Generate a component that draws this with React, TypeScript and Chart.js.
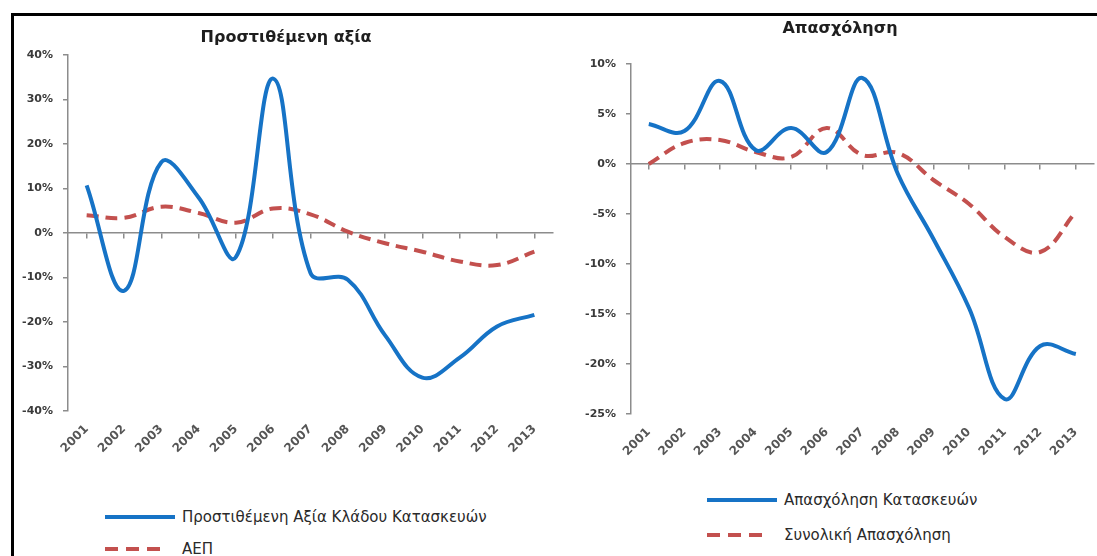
import React, { useEffect, useRef } from "react";
import { Chart, registerables } from "chart.js";

Chart.register(...registerables);

// ---- data ----
const years = ["2001", "2002", "2003", "2004", "2005", "2006", "2007", "2008", "2009", "2010", "2011", "2012", "2013"];

// Left panel: Προστιθέμενη αξία (% change)
const valueAddedConstruction = [10.7, -13, 15.9, 8.0, -5.4, 34.7, -9, -10.5, -23, -32.5, -28, -21, -18.4];
const gdp = [4.0, 3.4, 5.9, 4.5, 2.3, 5.5, 4.2, 0.3, -2.3, -4.2, -6.4, -7.2, -4.2];

// Right panel: Απασχόληση (% change)
const constructionEmployment = [4.0, 3.3, 8.3, 1.4, 3.6, 1.2, 8.6, -1.0, -7.5, -14.4, -23.5, -18.2, -19.0];
const totalEmployment = [0.0, 2.1, 2.4, 1.2, 0.7, 3.6, 0.9, 1.1, -1.6, -4.0, -7.3, -8.8, -4.8];

const leftTitle = "Προστιθέμενη αξία";
const rightTitle = "Απασχόληση";
const leftSeriesNames = ["Προστιθέμενη Αξία Κλάδου Κατασκευών", "ΑΕΠ"];
const rightSeriesNames = ["Απασχόληση Κατασκευών", "Συνολική Απασχόληση"];

const BLUE = "#1673c6";
const RED = "#c3504e";
const AXIS = "#8c8c8c";
const FONT = "'DejaVu Sans', 'Open Sans', sans-serif";

type PanelCfg = {
  a: number[];
  b: number[];
  names: string[];
  min: number;
  max: number;
  step: number;
  padding: { left: number; top: number; right: number; bottom: number };
  yWidth: number;
  xHeight: number;
};

function buildChart(canvas: HTMLCanvasElement, cfg: PanelCfg) {
  const yFont = { family: FONT, size: 11, weight: "bold" as const };
  const xFont = { family: FONT, size: 12, weight: "bold" as const };
  return new Chart(canvas, {
    type: "line",
    data: {
      labels: years,
      datasets: [
        {
          label: cfg.names[0],
          data: cfg.a,
          borderColor: BLUE,
          backgroundColor: BLUE,
          borderWidth: 4,
          pointRadius: 0,
          tension: 0.4,
          fill: false,
        },
        {
          label: cfg.names[1],
          data: cfg.b,
          borderColor: RED,
          backgroundColor: RED,
          borderWidth: 4,
          borderDash: [12, 7],
          pointRadius: 0,
          tension: 0.4,
          fill: false,
        },
      ],
    },
    options: {
      responsive: false,
      animation: false,
      devicePixelRatio: 1,
      layout: { padding: cfg.padding },
      plugins: {
        legend: { display: false },
        title: { display: false },
        tooltip: { enabled: false },
      },
      scales: {
        x: {
          type: "category",
          position: "bottom",
          offset: true,
          border: { display: false },
          grid: { display: false, drawTicks: false },
          ticks: {
            minRotation: 45,
            maxRotation: 45,
            autoSkip: false,
            padding: 11,
            color: "#555555",
            font: xFont,
          },
          afterFit: (s: any) => {
            s.height = cfg.xHeight;
          },
        },
        x2: {
          type: "category",
          position: { y: 0 } as any,
          offset: true,
          border: { display: true, color: AXIS, width: 1.5 },
          grid: { display: true, drawOnChartArea: false, drawTicks: true, tickLength: 5, color: AXIS, lineWidth: 1.5 },
          ticks: { display: false },
        },
        y: {
          type: "linear",
          min: cfg.min,
          max: cfg.max,
          border: { display: true, color: AXIS, width: 1.5 },
          grid: { display: true, drawOnChartArea: false, drawTicks: true, tickLength: 5, color: AXIS, lineWidth: 1.5 },
          ticks: {
            stepSize: cfg.step,
            padding: 10,
            color: "#3a3a3a",
            font: yFont,
            callback: (v: any) => `${v}%`,
          },
          afterFit: (s: any) => {
            s.width = cfg.yWidth;
          },
        },
      },
    },
  });
}

function Panel(props: { cfg: PanelCfg; left: number; width: number; height: number }) {
  const ref = useRef<HTMLCanvasElement | null>(null);
  useEffect(() => {
    if (!ref.current) return;
    const chart = buildChart(ref.current, props.cfg);
    return () => chart.destroy();
  }, []);
  return (
    <canvas
      ref={ref}
      width={props.width}
      height={props.height}
      style={{ position: "absolute", left: props.left, top: 0, width: props.width, height: props.height }}
    />
  );
}

function LegendRow(props: { x: number; y: number; len: number; color: string; dashed: boolean; text: string; textX: number }) {
  return (
    <>
      <svg
        width={props.len}
        height={8}
        style={{ position: "absolute", left: props.x, top: props.y - 4 }}
      >
        <line
          x1={0}
          y1={4}
          x2={props.len}
          y2={4}
          stroke={props.color}
          strokeWidth={4}
          strokeDasharray={props.dashed ? "13 8" : undefined}
        />
      </svg>
      <div
        style={{
          position: "absolute",
          left: props.textX,
          top: props.y - 10,
          height: 20,
          lineHeight: "20px",
          fontFamily: FONT,
          fontSize: 15,
          color: "#2a2a2a",
          whiteSpace: "nowrap",
        }}
      >
        {props.text}
      </div>
    </>
  );
}

const leftCfg: PanelCfg = {
  a: valueAddedConstruction,
  b: gdp,
  names: leftSeriesNames,
  min: -40,
  max: 40,
  step: 10,
  padding: { left: 0, top: 55, right: 7, bottom: 9 },
  yWidth: 68,
  xHeight: 50,
};

const rightCfg: PanelCfg = {
  a: constructionEmployment,
  b: totalEmployment,
  names: rightSeriesNames,
  min: -25,
  max: 10,
  step: 5,
  padding: { left: 0, top: 64, right: 0, bottom: 6 },
  yWidth: 71,
  xHeight: 50,
};

export default function App() {
  const titleStyle = (cx: number, cy: number): React.CSSProperties => ({
    position: "absolute",
    left: cx - 150,
    width: 300,
    top: cy - 11,
    height: 22,
    lineHeight: "22px",
    textAlign: "center",
    fontFamily: FONT,
    fontWeight: 700,
    fontSize: 16,
    color: "#1e1e1e",
  });
  return (
    <div
      style={{
        position: "absolute",
        left: 0,
        top: 0,
        width: 1097,
        height: 556,
        overflow: "hidden",
        background: "#ffffff",
      }}
    >
      <Panel cfg={leftCfg} left={0} width={560} height={470} />
      <Panel cfg={rightCfg} left={560} width={537} height={470} />

      <div style={titleStyle(286, 37)}>{leftTitle}</div>
      <div style={titleStyle(840, 28)}>{rightTitle}</div>

      <LegendRow x={105} y={517} len={70} color={BLUE} dashed={false} text={leftSeriesNames[0]} textX={182} />
      <LegendRow x={105} y={549} len={63} color={RED} dashed={true} text={leftSeriesNames[1]} textX={182} />
      <LegendRow x={707} y={500} len={70} color={BLUE} dashed={false} text={rightSeriesNames[0]} textX={784} />
      <LegendRow x={707} y={535} len={63} color={RED} dashed={true} text={rightSeriesNames[1]} textX={784} />

      <div style={{ position: "absolute", left: 11, top: 13, width: 1086, height: 3, background: "#000" }} />
      <div style={{ position: "absolute", left: 11, top: 13, width: 3, height: 543, background: "#000" }} />
    </div>
  );
}
